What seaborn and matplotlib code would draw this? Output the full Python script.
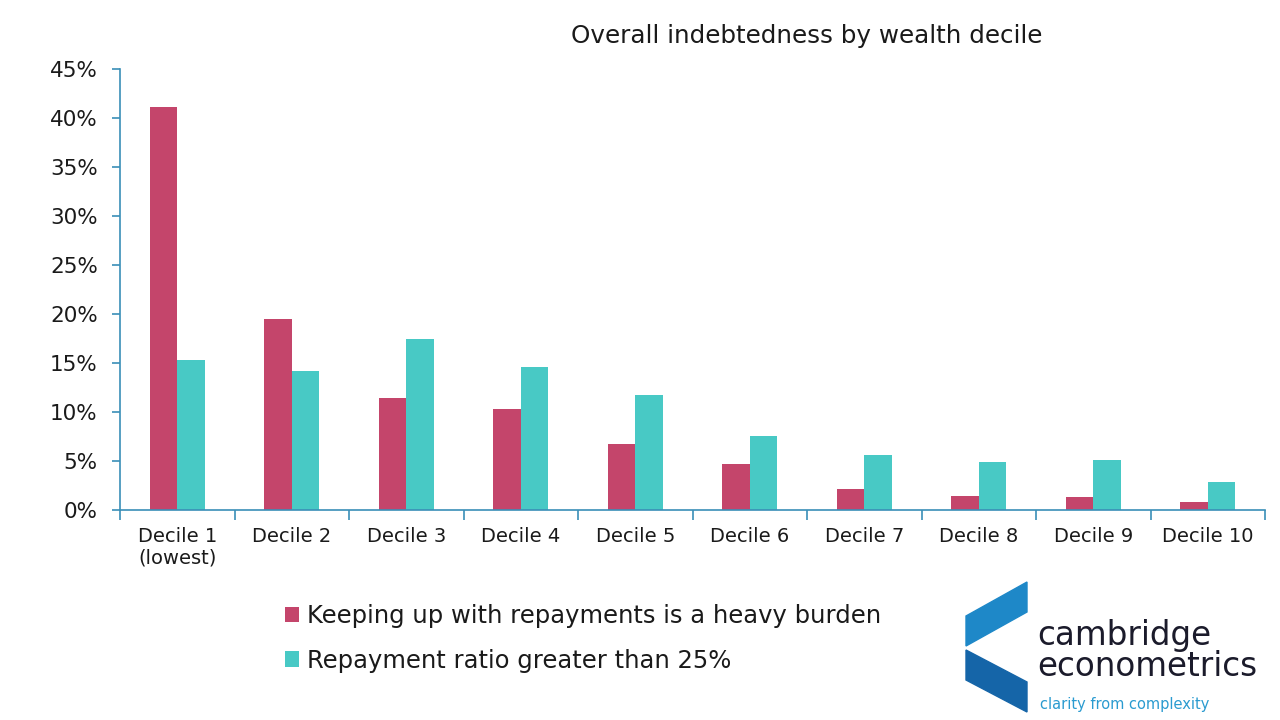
import pandas as pd
import numpy as np
import matplotlib
matplotlib.use("Agg")
import matplotlib.pyplot as plt
import seaborn as sns
from matplotlib.patches import Polygon
from matplotlib.ticker import PercentFormatter

# data (percent)
deciles = ["Decile 1\n(lowest)", "Decile 2", "Decile 3", "Decile 4", "Decile 5",
           "Decile 6", "Decile 7", "Decile 8", "Decile 9", "Decile 10"]
heavy_burden = [41.1, 19.5, 11.4, 10.3, 6.7, 4.7, 2.1, 1.4, 1.3, 0.8]
ratio_over_25 = [15.3, 14.2, 17.5, 14.6, 11.7, 7.6, 5.6, 4.9, 5.1, 2.9]
series_names = ["Keeping up with repayments is a heavy burden",
                "Repayment ratio greater than 25%"]
palette = ["#C4456B", "#48C9C5"]

df = pd.DataFrame({
    "decile": deciles * 2,
    "series": [series_names[0]] * len(deciles) + [series_names[1]] * len(deciles),
    "value": heavy_burden + ratio_over_25,
})

sns.set_style("white")
plt.rcParams["font.family"] = ["DejaVu Sans"]
axis_col = "#3A8FB7"
text_col = "#1a1a1a"

fig = plt.figure(figsize=(12.8, 7.2), dpi=100)
ax = fig.add_axes([120 / 1280, 1 - 510 / 720, 1145 / 1280, 441 / 720])

sns.barplot(data=df, x="decile", y="value", hue="series", order=deciles,
            hue_order=series_names, palette=palette, width=0.48, gap=0,
            saturation=1, linewidth=0, ax=ax, legend=True)

ax.set_xlim(-0.5, len(deciles) - 0.5)
ax.set_ylim(0, 45)
ax.set_yticks(np.arange(0, 46, 5))
ax.yaxis.set_major_formatter(PercentFormatter(decimals=0))
ax.set_xlabel("")
ax.set_ylabel("")

for side in ["top", "right"]:
    ax.spines[side].set_visible(False)
for side in ["left", "bottom"]:
    ax.spines[side].set_color(axis_col)
    ax.spines[side].set_linewidth(1.2)

ax.tick_params(axis="y", which="major", length=6, width=1.2, color=axis_col,
               labelsize=15.5, labelcolor=text_col, pad=10, direction="out", left=True)
ax.tick_params(axis="x", which="major", length=0, labelsize=14, labelcolor=text_col, pad=12)
ax.set_xticks(np.arange(-0.5, len(deciles)), minor=True)
ax.tick_params(axis="x", which="minor", length=7, width=1.2, color=axis_col,
               direction="out", bottom=True)

fig.text(807 / 1280, 1 - 36 / 720, "Overall indebtedness by wealth decile",
         ha="center", va="center", fontsize=17.7, color=text_col)

# legend below the plot
handles, labels = ax.get_legend_handles_labels()
ax.get_legend().remove()
fig.legend(handles, labels, loc="upper left", bbox_to_anchor=(263 / 1280, 1 - 582 / 720),
           frameon=False, fontsize=17.5, handlelength=0.6, handleheight=0.6,
           handletextpad=0.3, labelspacing=0.85, labelcolor=text_col)

# company logo
def px(x, y):
    return (x / 1280, 1 - y / 720)

upper = Polygon([px(966, 616), px(1027, 582), px(1027, 612), px(966, 646)],
                closed=True, transform=fig.transFigure, color="#1E88C8")
lower = Polygon([px(966, 650), px(1027, 682), px(1027, 712), px(966, 680)],
                closed=True, transform=fig.transFigure, color="#1565A8")
fig.patches.extend([upper, lower])
fig.text(1037 / 1280, 1 - 636 / 720, "cambridge", fontsize=23.5, color="#1b1b2b",
         ha="left", va="center")
fig.text(1037 / 1280, 1 - 667 / 720, "econometrics", fontsize=23.5, color="#1b1b2b",
         ha="left", va="center")
fig.text(1040 / 1280, 1 - 705 / 720, "clarity from complexity", fontsize=10.5,
         color="#2A9BD0", ha="left", va="center")

fig.savefig("out.png", dpi=100)
